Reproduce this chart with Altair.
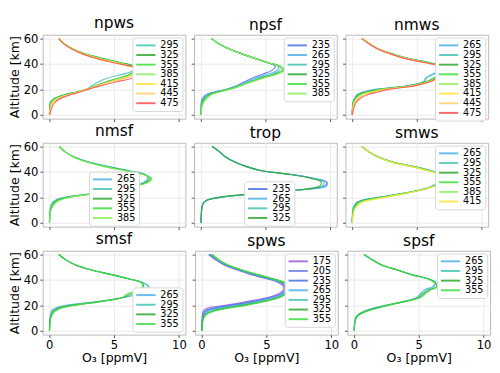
import altair as alt
import pandas as pd

# altitude grid (km) shared by every profile
ALT = [0, 5, 10, 13, 16, 18, 20, 23, 26, 29, 32, 35, 38, 41, 44, 48, 52, 56, 60]

COLORS = {
    "175": "#9a5cd6", "205": "#6b7fe2", "235": "#4a72e6", "265": "#4fb0e8",
    "295": "#45c4b4", "325": "#2ea82e", "355": "#3ee03e", "385": "#8cf060",
    "415": "#ffe135", "445": "#ffcf6e", "475": "#ff4d4d",
}

NPWS_LEVELS = ["295", "325", "355", "385", "415", "445", "475"]
NPWS = [
    [0.02, 0.03, 0.10, 0.40, 1.20, 2.10, 2.85, 3.30, 3.80, 4.50, 5.70, 6.50, 6.60, 5.60, 4.30, 2.80, 1.80, 1.15, 0.75],
    [0.02, 0.04, 0.13, 0.45, 1.30, 2.15, 2.90, 3.60, 4.40, 5.40, 6.20, 6.60, 6.50, 5.50, 4.20, 2.75, 1.80, 1.15, 0.75],
    [0.02, 0.05, 0.17, 0.52, 1.38, 2.20, 2.90, 3.70, 4.60, 5.50, 6.30, 6.70, 6.40, 5.40, 4.10, 2.70, 1.75, 1.15, 0.75],
    [0.03, 0.06, 0.22, 0.60, 1.45, 2.25, 2.90, 3.70, 4.60, 5.60, 6.40, 6.80, 6.30, 5.30, 4.00, 2.70, 1.75, 1.15, 0.75],
    [0.03, 0.09, 0.28, 0.70, 1.52, 2.28, 2.92, 3.80, 4.70, 5.80, 6.60, 7.00, 6.30, 5.20, 3.90, 2.65, 1.75, 1.15, 0.75],
    [0.04, 0.11, 0.33, 0.78, 1.58, 2.30, 2.94, 3.80, 4.80, 5.90, 6.70, 7.10, 6.30, 5.10, 3.85, 2.60, 1.70, 1.12, 0.75],
    [0.05, 0.17, 0.45, 0.90, 1.68, 2.35, 2.98, 4.00, 5.20, 6.50, 7.40, 7.50, 6.40, 5.00, 3.75, 2.55, 1.70, 1.12, 0.75],
]

NPSF_LEVELS = ["235", "265", "295", "325", "355", "385"]
NPSF = [
    [0.02, 0.03, 0.06, 0.15, 0.45, 1.10, 2.00, 2.80, 3.40, 4.00, 4.80, 5.50, 5.75, 5.20, 4.30, 3.20, 2.20, 1.40, 0.85],
    [0.02, 0.04, 0.09, 0.20, 0.50, 1.15, 2.05, 2.90, 3.55, 4.25, 5.20, 5.90, 6.00, 5.20, 4.30, 3.20, 2.20, 1.40, 0.85],
    [0.02, 0.05, 0.12, 0.27, 0.60, 1.20, 2.10, 3.00, 3.70, 4.50, 5.50, 6.10, 6.10, 5.20, 4.30, 3.20, 2.20, 1.40, 0.85],
    [0.02, 0.06, 0.16, 0.35, 0.70, 1.30, 2.15, 3.10, 3.90, 4.70, 5.70, 6.30, 6.20, 5.20, 4.30, 3.20, 2.20, 1.40, 0.85],
    [0.03, 0.07, 0.20, 0.42, 0.80, 1.40, 2.20, 3.10, 3.90, 4.80, 5.80, 6.40, 6.20, 5.20, 4.30, 3.20, 2.20, 1.40, 0.85],
    [0.03, 0.08, 0.25, 0.50, 0.90, 1.50, 2.25, 3.10, 4.00, 4.90, 5.90, 6.50, 6.20, 5.20, 4.30, 3.20, 2.20, 1.40, 0.85],
]

NMWS_LEVELS = ["265", "295", "325", "355", "385", "415", "445", "475"]
NMWS = [
    [0.02, 0.04, 0.08, 0.20, 0.40, 0.90, 1.80, 4.30, 5.50, 5.70, 6.20, 6.80, 7.00, 6.00, 4.50, 3.10, 2.00, 1.35, 0.76],
    [0.02, 0.04, 0.09, 0.22, 0.45, 1.00, 1.90, 4.40, 5.55, 5.75, 6.30, 6.90, 7.00, 6.00, 4.50, 3.10, 2.00, 1.35, 0.76],
    [0.02, 0.05, 0.11, 0.26, 0.55, 1.15, 2.10, 4.60, 5.70, 6.30, 6.70, 7.10, 6.90, 5.90, 4.40, 3.05, 2.00, 1.35, 0.76],
    [0.02, 0.05, 0.13, 0.30, 0.65, 1.30, 2.25, 4.65, 5.80, 6.50, 6.90, 7.30, 6.90, 5.90, 4.40, 3.05, 2.00, 1.35, 0.76],
    [0.03, 0.06, 0.16, 0.35, 0.75, 1.45, 2.40, 4.70, 5.90, 6.60, 7.10, 7.50, 6.90, 5.80, 4.30, 3.00, 2.00, 1.35, 0.76],
    [0.03, 0.07, 0.20, 0.42, 0.90, 1.60, 2.55, 4.75, 6.00, 6.70, 7.20, 7.60, 6.90, 5.70, 4.30, 3.00, 2.00, 1.35, 0.76],
    [0.03, 0.09, 0.25, 0.50, 1.05, 1.80, 2.70, 4.80, 6.00, 6.70, 7.10, 7.40, 6.90, 5.70, 4.30, 3.00, 2.00, 1.35, 0.76],
    [0.04, 0.12, 0.35, 0.65, 1.25, 2.00, 2.85, 4.90, 6.00, 6.60, 7.00, 7.30, 6.90, 5.70, 4.20, 2.95, 1.95, 1.30, 0.76],
]

NMSF_LEVELS = ["265", "295", "325", "355", "385"]
NMSF = [
    [0.02, 0.03, 0.06, 0.12, 0.25, 0.50, 1.20, 3.30, 5.00, 6.50, 7.30, 7.60, 7.40, 6.20, 4.70, 3.00, 1.90, 1.20, 0.80],
    [0.02, 0.04, 0.08, 0.15, 0.30, 0.60, 1.30, 3.35, 5.00, 6.50, 7.40, 7.70, 7.40, 6.10, 4.60, 2.95, 1.90, 1.20, 0.80],
    [0.02, 0.05, 0.10, 0.20, 0.37, 0.70, 1.40, 3.40, 5.05, 6.60, 7.50, 7.80, 7.30, 6.00, 4.50, 2.90, 1.85, 1.20, 0.80],
    [0.02, 0.05, 0.12, 0.25, 0.45, 0.80, 1.50, 3.45, 5.10, 6.60, 7.60, 7.90, 7.30, 5.90, 4.40, 2.85, 1.85, 1.20, 0.80],
    [0.03, 0.06, 0.15, 0.30, 0.55, 0.90, 1.60, 3.50, 5.10, 6.70, 7.70, 7.90, 7.20, 5.80, 4.30, 2.80, 1.80, 1.20, 0.80],
]

TROP_LEVELS = ["235", "265", "295", "325"]
TROP = [
    [0.03, 0.05, 0.08, 0.12, 0.25, 0.55, 1.50, 4.30, 7.80, 9.60, 9.70, 8.70, 7.00, 4.70, 3.60, 2.60, 1.90, 1.45, 0.90],
    [0.03, 0.05, 0.08, 0.12, 0.25, 0.55, 1.50, 4.30, 7.80, 9.70, 9.75, 8.70, 7.00, 4.70, 3.60, 2.60, 1.90, 1.45, 0.90],
    [0.03, 0.05, 0.08, 0.12, 0.25, 0.50, 1.45, 4.20, 7.70, 9.40, 9.50, 8.60, 7.00, 4.70, 3.60, 2.60, 1.90, 1.45, 0.90],
    [0.03, 0.05, 0.08, 0.12, 0.24, 0.50, 1.40, 4.10, 7.60, 9.20, 9.30, 8.50, 6.90, 4.70, 3.60, 2.60, 1.90, 1.45, 0.90],
]

SMWS_LEVELS = ["265", "295", "325", "355", "385", "415"]
SMWS = [
    [0.02, 0.03, 0.06, 0.15, 0.35, 0.80, 2.00, 3.80, 5.30, 6.20, 6.60, 7.00, 7.00, 6.10, 4.90, 3.10, 2.00, 1.30, 0.76],
    [0.02, 0.04, 0.08, 0.18, 0.40, 0.90, 2.10, 3.85, 5.35, 6.25, 6.80, 7.20, 7.00, 6.10, 4.90, 3.10, 2.00, 1.30, 0.76],
    [0.02, 0.04, 0.10, 0.22, 0.47, 1.00, 2.20, 3.90, 5.40, 6.30, 7.00, 7.50, 7.00, 6.00, 4.80, 3.05, 2.00, 1.30, 0.76],
    [0.02, 0.05, 0.12, 0.27, 0.55, 1.15, 2.30, 3.95, 5.40, 6.35, 7.10, 7.70, 7.00, 6.00, 4.80, 3.05, 2.00, 1.30, 0.76],
    [0.03, 0.06, 0.15, 0.32, 0.65, 1.30, 2.40, 4.00, 5.45, 6.40, 7.30, 7.90, 7.00, 5.90, 4.70, 3.00, 1.95, 1.30, 0.76],
    [0.03, 0.07, 0.18, 0.38, 0.75, 1.45, 2.50, 4.05, 5.50, 6.40, 7.40, 8.00, 7.00, 5.90, 4.70, 3.00, 1.95, 1.30, 0.76],
]

SMSF_LEVELS = ["265", "295", "325", "355"]
SMSF = [
    [0.02, 0.03, 0.06, 0.10, 0.20, 0.50, 1.30, 3.70, 5.60, 6.90, 7.60, 7.70, 7.20, 6.10, 4.90, 3.20, 2.00, 1.25, 0.74],
    [0.02, 0.04, 0.08, 0.14, 0.28, 0.65, 1.50, 3.80, 5.60, 6.80, 7.50, 7.60, 7.20, 6.10, 4.90, 3.20, 2.00, 1.25, 0.74],
    [0.02, 0.05, 0.10, 0.20, 0.40, 0.85, 1.75, 3.90, 5.60, 6.30, 7.10, 7.30, 7.10, 6.10, 4.90, 3.20, 2.00, 1.25, 0.74],
    [0.02, 0.05, 0.12, 0.25, 0.55, 1.00, 1.90, 4.00, 5.60, 6.00, 6.80, 7.20, 7.10, 6.10, 4.90, 3.20, 2.00, 1.25, 0.74],
]

SPWS_LEVELS = ["175", "205", "235", "265", "295", "325", "355"]
SPWS = [
    [0.02, 0.03, 0.05, 0.08, 0.15, 0.50, 1.80, 3.50, 5.00, 5.90, 6.30, 6.30, 5.90, 5.00, 3.90, 2.70, 1.70, 1.05, 0.55],
    [0.02, 0.03, 0.06, 0.10, 0.30, 0.90, 2.10, 3.80, 5.20, 6.00, 6.40, 6.40, 6.00, 5.10, 4.00, 2.80, 1.80, 1.10, 0.60],
    [0.02, 0.04, 0.08, 0.14, 0.45, 1.20, 2.40, 4.00, 5.40, 6.20, 6.60, 6.50, 6.10, 5.20, 4.10, 2.85, 1.85, 1.15, 0.65],
    [0.02, 0.04, 0.10, 0.20, 0.60, 1.50, 2.70, 4.30, 5.60, 6.30, 6.70, 6.70, 6.20, 5.30, 4.20, 2.90, 1.90, 1.20, 0.70],
    [0.02, 0.05, 0.12, 0.27, 0.80, 1.80, 3.00, 4.50, 5.80, 6.40, 6.80, 6.80, 6.30, 5.40, 4.30, 3.00, 1.95, 1.25, 0.75],
    [0.02, 0.05, 0.14, 0.35, 1.00, 2.00, 3.20, 4.70, 5.90, 6.50, 6.90, 6.90, 6.40, 5.50, 4.40, 3.05, 2.00, 1.30, 0.80],
    [0.03, 0.06, 0.17, 0.42, 1.15, 2.20, 3.40, 4.80, 6.00, 6.50, 6.90, 6.90, 6.40, 5.50, 4.40, 3.05, 2.00, 1.30, 0.80],
]

SPSF_LEVELS = ["265", "295", "325", "355"]
SPSF = [
    [0.02, 0.05, 0.12, 0.35, 0.90, 1.60, 2.40, 3.80, 4.80, 5.10, 5.40, 6.10, 6.30, 5.70, 4.50, 3.30, 2.10, 1.40, 0.78],
    [0.02, 0.05, 0.14, 0.40, 1.00, 1.70, 2.50, 3.85, 4.90, 5.20, 5.60, 6.20, 6.30, 5.70, 4.50, 3.30, 2.10, 1.40, 0.78],
    [0.02, 0.06, 0.16, 0.45, 1.10, 1.80, 2.55, 3.90, 5.00, 5.35, 5.80, 6.40, 6.25, 5.70, 4.50, 3.30, 2.10, 1.40, 0.78],
    [0.03, 0.06, 0.18, 0.50, 1.20, 1.90, 2.60, 3.95, 5.10, 5.50, 5.90, 6.50, 6.20, 5.70, 4.50, 3.30, 2.10, 1.40, 0.78],
]

PANELS = [
    ("npws", NPWS_LEVELS, NPWS, {"orient": "top-right"}),
    ("npsf", NPSF_LEVELS, NPSF, {"orient": "top-right"}),
    ("nmws", NMWS_LEVELS, NMWS, {"orient": "top-right"}),
    ("nmsf", NMSF_LEVELS, NMSF, {"orient": "none", "legendX": 48, "legendY": 30}),
    ("trop", TROP_LEVELS, TROP, {"orient": "none", "legendX": 52, "legendY": 40}),
    ("smws", SMWS_LEVELS, SMWS, {"orient": "top-right"}),
    ("smsf", SMSF_LEVELS, SMSF, {"orient": "bottom-right"}),
    ("spws", SPWS_LEVELS, SPWS, {"orient": "top-right"}),
    ("spsf", SPSF_LEVELS, SPSF, {"orient": "top-right"}),
]

W, H = 148, 87
FONT = "DejaVu Sans"


def make_panel(i, name, levels, profiles, leg):
    row, col = divmod(i, 3)
    records = []
    for lev, prof in zip(levels, profiles):
        for a, v in zip(ALT, prof):
            records.append({"alt": a, "o3": v, "level": lev})
    df = pd.DataFrame(records)

    xaxis = alt.Axis(values=[0, 5, 10], labels=(row == 2),
                     title="O₃ [ppmV]" if row == 2 else None)
    yaxis = alt.Axis(values=[0, 20, 40, 60], labels=(col == 0),
                     title="Altitude [km]" if col == 0 else None)
    legend = alt.Legend(
        title=None, symbolType="M-1,0H4", symbolSize=64, symbolStrokeWidth=2,
        labelFontSize=10, labelFont=FONT, labelOffset=16, padding=3,
        rowPadding=0, fillColor="white", strokeColor="#d6d6d6",
        cornerRadius=3, offset=3, **leg)

    return (
        alt.Chart(df)
        .mark_line(strokeWidth=1.2, opacity=0.85, interpolate="catmull-rom")
        .encode(
            x=alt.X("o3:Q", scale=alt.Scale(domain=[-0.5, 10.5], nice=False, zero=False), axis=xaxis),
            y=alt.Y("alt:Q", scale=alt.Scale(domain=[-3, 63], nice=False, zero=False), axis=yaxis),
            color=alt.Color("level:N", legend=legend,
                            scale=alt.Scale(domain=levels, range=[COLORS[l] for l in levels])),
            order=alt.Order("alt:Q"),
        )
        .properties(width=W, height=H,
                    title=alt.TitleParams(name, fontSize=16, font=FONT, fontWeight="normal",
                                          offset=2, color="black"))
    )


charts = [make_panel(i, *p) for i, p in enumerate(PANELS)]
rows = [
    alt.hconcat(*charts[r * 3:(r + 1) * 3], spacing=4).resolve_scale(color="independent")
    for r in range(3)
]
chart = (
    alt.vconcat(*rows, spacing=0)
    .resolve_scale(color="independent")
    .properties(padding=0)
    .configure_view(stroke="#b8b8b8")
    .configure_axis(
        grid=True, gridColor="#e8e8e8", domain=False, tickColor="#555555", tickSize=3,
        labelFontSize=12, titleFontSize=13, labelFont=FONT, titleFont=FONT,
        labelColor="black", titleColor="black", titleFontWeight="normal",
        labelPadding=2, titlePadding=2,
    )
)

chart.save("out.html", embed_options={"renderer": "svg", "actions": False})
